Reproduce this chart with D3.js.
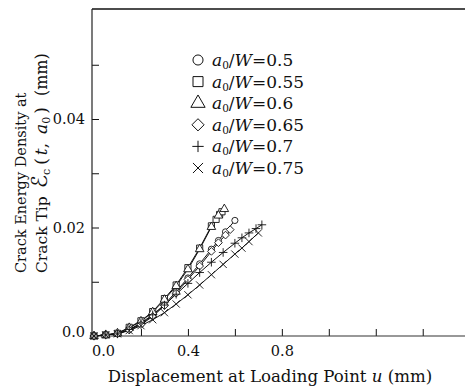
<!DOCTYPE html>
<html>
<head>
<meta charset="utf-8">
<script src="https://cdn.jsdelivr.net/npm/d3@7"></script>
<style>
  body { margin: 0; background: #fff; }
  svg { display: block; }
  text { font-family: "DejaVu Serif", "Liberation Serif", serif; fill: #111; }
</style>
</head>
<body>
<div id="root"><svg width="465" height="387"></svg></div>
<script>
// a0/W ratios, one series each
const ratios = ['0.5', '0.55', '0.6', '0.65', '0.7', '0.75'];

// displacement u (mm) and crack energy density (mm)
const u050 = [0, 0.05, 0.1, 0.15, 0.2, 0.25, 0.3, 0.35, 0.4, 0.45, 0.5, 0.53, 0.56, 0.6];
const e050 = [0, 0.0002, 0.0004, 0.0012, 0.0022, 0.0038, 0.0058, 0.0082, 0.0107, 0.0133, 0.016, 0.0176, 0.0192, 0.0213];
const u055 = [0, 0.05, 0.1, 0.15, 0.2, 0.25, 0.3, 0.35, 0.4, 0.45, 0.5, 0.52, 0.535, 0.545];
const e055 = [0, 0.0002, 0.0005, 0.0016, 0.0028, 0.0045, 0.0069, 0.0094, 0.0126, 0.0162, 0.0203, 0.0215, 0.0224, 0.0229];
const u060 = [0, 0.05, 0.1, 0.15, 0.2, 0.25, 0.3, 0.35, 0.4, 0.45, 0.5, 0.53, 0.555];
const e060 = [0, 0.0002, 0.0005, 0.0015, 0.0027, 0.0044, 0.0067, 0.0092, 0.0123, 0.016, 0.0201, 0.0222, 0.0234];
const u065 = [0, 0.05, 0.1, 0.15, 0.2, 0.25, 0.3, 0.35, 0.4, 0.45, 0.5, 0.53, 0.56, 0.58];
const e065 = [0, 0.0002, 0.0004, 0.0011, 0.0021, 0.0036, 0.0056, 0.0079, 0.0104, 0.0129, 0.0156, 0.0172, 0.0186, 0.0196];
const u070 = [0, 0.05, 0.1, 0.15, 0.2, 0.25, 0.3, 0.35, 0.4, 0.45, 0.5, 0.55, 0.6, 0.63, 0.66, 0.69, 0.715];
const e070 = [0, 0.0002, 0.0004, 0.0012, 0.0024, 0.0039, 0.0057, 0.0077, 0.0097, 0.0117, 0.0136, 0.0154, 0.0171, 0.0181, 0.019, 0.0198, 0.0205];
const u075 = [0, 0.05, 0.1, 0.15, 0.2, 0.25, 0.3, 0.35, 0.4, 0.45, 0.5, 0.55, 0.6, 0.63, 0.66, 0.7];
const e075 = [0, 0.0002, 0.0004, 0.001, 0.0019, 0.003, 0.0043, 0.0059, 0.0076, 0.0094, 0.0113, 0.0132, 0.0151, 0.0162, 0.0174, 0.019];

const xTickValues = [0, 0.2, 0.4, 0.6, 0.8, 1.0, 1.2, 1.4];
const xTickLabels = ['0.0', '', '0.4', '', '0.8', '', '', ''];
const yTickValues = [0, 0.01, 0.02, 0.03, 0.04, 0.05];
const yTickLabels = ['0.0', '', '0.02', '', '0.04', ''];

const seriesU = [u050, u055, u060, u065, u070, u075];
const seriesE = [e050, e055, e060, e065, e070, e075];

function drawChart() {
  const svg = d3.select('#root svg');
  const axisLeftX = 92;
  const plotTop = 9;
  const plotBottom = 336;
  const plotRight = 465;

  const xScale = d3.scaleLinear().domain([0, 1.58]).range([94, plotRight]);
  const yScale = d3.scaleLinear().domain([0, 0.06]).range([plotBottom, 10.5]);

  // frame lines: top and left, bottom comes with the x axis
  svg.append('line')
    .attr('x1', axisLeftX).attr('x2', plotRight)
    .attr('y1', plotTop).attr('y2', plotTop)
    .attr('stroke', '#111').attr('stroke-width', 1.3);

  const xAxis = d3.axisBottom(xScale)
    .tickValues(xTickValues)
    .tickSizeInner(-7)
    .tickSizeOuter(0)
    .tickPadding(10)
    .tickFormat((d, i) => xTickLabels[i]);
  const xg = svg.append('g')
    .attr('transform', `translate(0 ${plotBottom})`)
    .call(xAxis);
  xg.select('.domain').remove();
  xg.selectAll('text').attr('font-size', '14.5px').attr('font-family', '"DejaVu Serif", serif');
  xg.selectAll('.tick').filter((d) => d === 0).select('text').attr('dx', 9);
  xg.selectAll('.tick').filter((d) => d === 0).select('line').remove();
  xg.append('line')
    .attr('x1', axisLeftX).attr('x2', plotRight)
    .attr('stroke', '#333').attr('stroke-width', 1.2);

  const yAxis = d3.axisLeft(yScale)
    .tickValues(yTickValues)
    .tickSizeInner(-7)
    .tickSizeOuter(0)
    .tickPadding(7)
    .tickFormat((d, i) => yTickLabels[i]);
  const yg = svg.append('g')
    .attr('transform', `translate(${axisLeftX} 0)`)
    .call(yAxis);
  yg.select('.domain').remove();
  yg.selectAll('text').attr('font-size', '14.5px').attr('font-family', '"DejaVu Serif", serif');
  yg.selectAll('.tick').filter((d) => d === 0).select('text').attr('dy', '0.05em');
  yg.selectAll('.tick').filter((d) => d === 0).select('line').remove();
  yg.append('line')
    .attr('y1', plotTop).attr('y2', plotBottom)
    .attr('stroke', '#222').attr('stroke-width', 1.2);
  svg.selectAll('.tick line').attr('stroke', '#111');

  // axis titles
  const xt = svg.append('text')
    .attr('x', 270).attr('y', 382)
    .attr('text-anchor', 'middle')
    .attr('font-size', '16.6px');
  xt.append('tspan').text('Displacement at Loading Point ');
  xt.append('tspan').attr('font-style', 'italic').text('u');
  xt.append('tspan').text(' (mm)');

  const yt = svg.append('g').attr('transform', 'rotate(-90)');
  yt.append('text')
    .attr('x', -273).attr('y', 26)
    .attr('font-size', '14.5px')
    .text('Crack Energy Density at');
  const yt2 = yt.append('text')
    .attr('x', -273).attr('y', 47)
    .attr('font-size', '15.5px');
  yt2.append('tspan').text('Crack Tip');
  yt2.append('tspan').attr('dx', 8).attr('font-size', '22px').attr('font-family', '"DejaVu Sans", sans-serif').text('\u2130');
  yt2.append('tspan').attr('font-size', '11px').attr('dy', 3).text('c');
  yt2.append('tspan').attr('dx', 4).attr('dy', -3).attr('font-size', '17px').text('(');
  yt2.append('tspan').attr('dx', 3).attr('font-size', '17px').attr('font-style', 'italic').text('t');
  yt2.append('tspan').attr('font-size', '17px').text(',');
  yt2.append('tspan').attr('dx', 9).attr('font-size', '17px').attr('font-style', 'italic').text('a');
  yt2.append('tspan').attr('font-size', '11px').attr('dy', 3).text('0');
  yt2.append('tspan').attr('dx', 3).attr('dy', -3).attr('font-size', '17px').text(')');
  yt2.append('tspan').attr('dx', 11).attr('font-size', '16px').text('(mm)');

  // markers
  const symbolTypes = [
    d3.symbolCircle,
    d3.symbolSquare,
    d3.symbolTriangle,
    d3.symbolDiamond2 || d3.symbolDiamond,
    d3.symbolPlus || d3.symbolCross,
    d3.symbolTimes || d3.symbolX || d3.symbolCross
  ];
  const plotSizes = [30, 38, 32, 38, 26, 36];
  const legendSizes = [80, 100, 88, 95, 44, 68];

  const line = d3.line()
    .x((d) => xScale(d[0]))
    .y((d) => yScale(d[1]));

  ratios.forEach((r, k) => {
    const pts = seriesU[k].map((u, i) => [u, seriesE[k][i]]);
    svg.append('path')
      .datum(pts)
      .attr('d', line)
      .attr('fill', 'none')
      .attr('stroke', '#111')
      .attr('stroke-width', 1);
  });

  ratios.forEach((r, k) => {
    const pts = seriesU[k].map((u, i) => [u, seriesE[k][i]]);
    const sym = d3.symbol().type(symbolTypes[k]).size(plotSizes[k]);
    svg.append('g').attr('class', 'marks')
      .selectAll('path')
      .data(pts)
      .enter()
      .append('path')
      .attr('transform', (d) => `translate(${xScale(d[0])} ${yScale(d[1])})`)
      .attr('d', sym)
      .attr('fill', k >= 4 ? 'none' : '#fff')
      .attr('stroke', '#111')
      .attr('stroke-width', 0.9);
  });

  // legend
  const lg = svg.append('g').attr('class', 'legend');
  ratios.forEach((r, k) => {
    const y = 60 + k * 21.6;
    lg.append('path')
      .attr('transform', `translate(198 ${y})`)
      .attr('d', d3.symbol().type(symbolTypes[k]).size(legendSizes[k]))
      .attr('fill', k >= 4 ? 'none' : '#fff')
      .attr('stroke', '#111')
      .attr('stroke-width', 1);
    const t = lg.append('text')
      .attr('x', 212).attr('y', y + 6)
      .attr('font-size', '17px');
    t.append('tspan').attr('font-style', 'italic').text('a');
    t.append('tspan').attr('font-size', '10.5px').attr('dy', 3).text('0');
    t.append('tspan').attr('dy', -3).text('/');
    t.append('tspan').attr('font-style', 'italic').text('W');
    t.append('tspan').text('=' + r);
  });
}

window.addEventListener('load', function() {
  drawChart();
});
</script>
</body>
</html>
